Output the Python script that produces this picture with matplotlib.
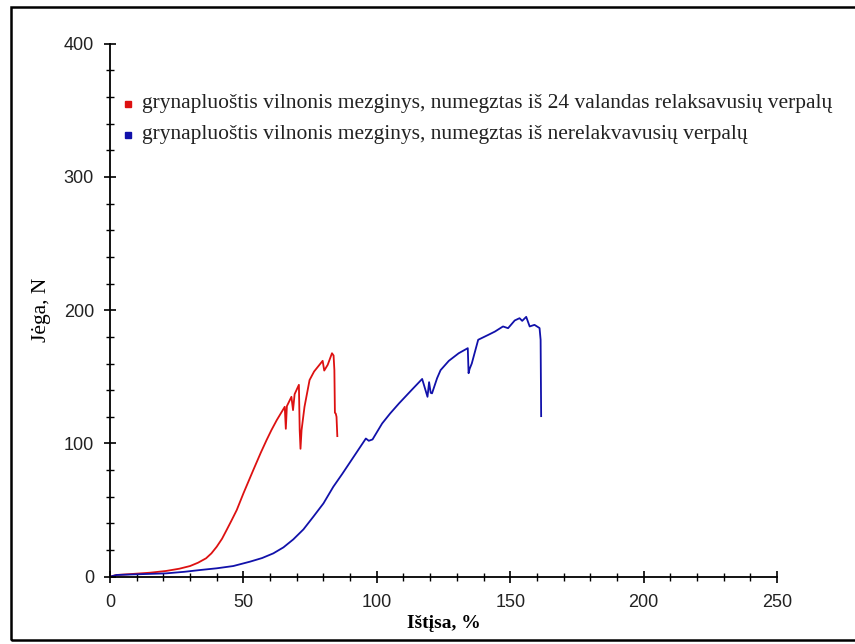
import matplotlib.pyplot as plt
from matplotlib.patches import Rectangle
from matplotlib.ticker import MultipleLocator

# Duomenys (nuskaityta nuo paveikslo)
red_x = [0, 2.5, 8, 15, 21, 26, 30, 33, 36, 38, 40, 42, 43.7, 45.5, 47.5, 50, 53.7, 56.5, 58.7,
         60.5, 62.5, 64, 65.5, 65.9, 66.3, 68, 68.6, 69.2, 70.8, 71.1, 71.4, 71.8, 72.9, 74.8,
         76.5, 78.5, 79.7, 80.3, 81.6, 83.2, 83.8, 84.1, 84.3, 84.6, 84.9, 85.2]
red_y = [0, 1.3, 2, 3, 4.3, 6, 8, 10.5, 13.8, 17.5, 22.5, 28.5, 35, 42, 50, 62.5, 80, 93, 102.6,
         110, 117.5, 122.5, 127.5, 111, 128, 135, 125, 137, 144, 110, 96, 110, 127.5, 147.6,
         154, 159, 162, 154.7, 159, 167.7, 166, 155, 123, 122.5, 120, 105.5]

blue_x = [0, 2.5, 10, 21, 28, 33.7, 40, 46.2, 52.5, 57, 61.2, 65, 68.7, 72.5, 76.2, 80, 83.7,
          87, 90, 93, 95.9, 97, 98.4, 102, 105, 108.3, 113, 117, 119, 119.6, 120.2, 120.7,
          122.6, 123.9, 127, 130.7, 134.1, 134.4, 134.8, 135.6, 138, 141.8, 144.3, 147.3,
          149.2, 151.7, 153.5, 154.5, 156, 157.3, 159.1, 161, 161.4, 161.6]
blue_y = [0, 1.3, 1.8, 2.5, 3.7, 5, 6.3, 8, 11.3, 14, 17.5, 22, 28, 35.5, 45, 55, 67.5, 77,
          86, 95, 103.7, 102, 103, 115, 122.5, 130, 140, 148.4, 135, 146, 138, 137.6, 149,
          155, 162, 167.7, 171.5, 152.7, 156, 160, 177.8, 181.5, 184, 187.8, 186.5, 192.3,
          194, 192, 195, 187.8, 189, 186.6, 177.8, 120.5]

legend_labels = ['grynapluoštis vilnonis mezginys, numegztas iš 24 valandas relaksavusių verpalų',
                 'grynapluoštis vilnonis mezginys, numegztas iš nerelakvavusių verpalų']
legend_y = [0.887, 0.829]
red = '#dd1111'
blue = '#1111aa'

W, H = 855, 644
fig = plt.figure(figsize=(W / 100, H / 100), dpi=100)
ax = fig.add_axes([110 / W, 1 - 576.7 / H, 667 / W, 533 / H])

ax.plot(red_x, red_y, color=red, lw=1.3)
ax.plot(blue_x, blue_y, color=blue, lw=1.3)

ax.set_xlim(0, 250)
ax.set_ylim(0, 400)
ax.xaxis.set_major_locator(MultipleLocator(50))
ax.xaxis.set_minor_locator(MultipleLocator(10))
ax.yaxis.set_major_locator(MultipleLocator(100))
ax.yaxis.set_minor_locator(MultipleLocator(20))
ax.tick_params(which='major', direction='inout', length=9, width=1.2, labelsize=13)
ax.tick_params(axis='x', which='major', pad=8)
ax.tick_params(axis='y', which='major', pad=7)
ax.tick_params(which='minor', direction='inout', length=6, width=1.0)
for s in ['top', 'right']:
    ax.spines[s].set_visible(False)
for s in ['left', 'bottom']:
    ax.spines[s].set_linewidth(1.3)

for lab in ax.get_xticklabels() + ax.get_yticklabels():
    lab.set_family(['Liberation Sans', 'DejaVu Sans'])
    lab.set_color('#222222')

ax.set_xlabel('Ištįsa, %', family='Liberation Serif', fontweight='bold', fontsize=14, labelpad=3)
ax.set_ylabel('Jėga, N', family='Liberation Serif', fontsize=15.5, labelpad=9)

# legenda
for lbl, c, yy in zip(legend_labels, [red, blue], legend_y):
    ax.plot([0.027], [yy], marker='s', ms=5, color=c, ls='none', transform=ax.transAxes,
            clip_on=False)
    ax.text(0.048, yy, lbl, transform=ax.transAxes, va='center', ha='left',
            family='Liberation Serif', fontsize=15.5, color='#222222')

fig.patches.append(Rectangle((11 / W, 4 / H), 900 / W, 633 / H, transform=fig.transFigure,
                             fill=False, edgecolor='black', lw=1.8))

fig.savefig('out.png', dpi=100)
